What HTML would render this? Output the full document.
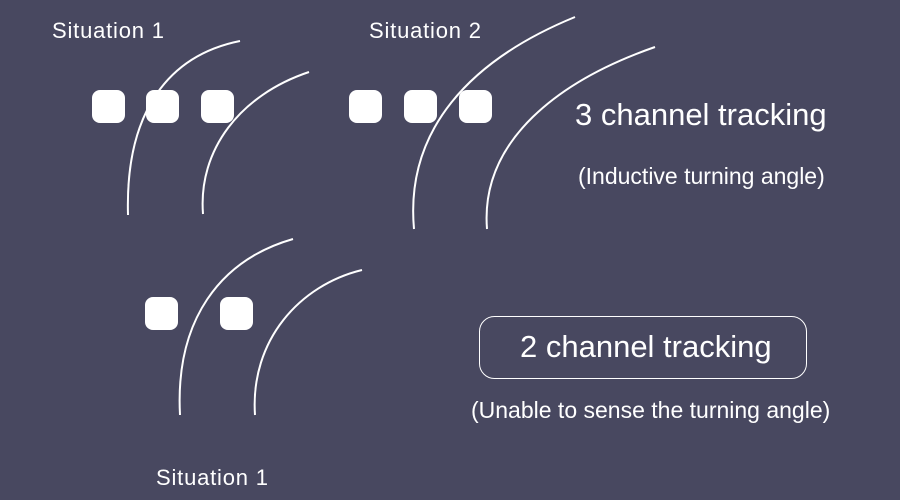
<!DOCTYPE html>
<html><head><style>
html,body{margin:0;padding:0;}
body{width:900px;height:500px;background:#484860;overflow:hidden;position:relative;font-family:"Liberation Sans",sans-serif;color:#fff;}
.t{position:absolute;white-space:nowrap;line-height:1.15;}
.s{font-size:22px;letter-spacing:0.8px;}
</style></head><body>
<svg width="900" height="500" style="position:absolute;left:0;top:0">
<g fill="#fff">
<rect x="92" y="90" width="33" height="33" rx="8"/>
<rect x="146" y="90" width="33" height="33" rx="8"/>
<rect x="201" y="90" width="33" height="33" rx="8"/>
<rect x="349" y="90" width="33" height="33" rx="8"/>
<rect x="404" y="90" width="33" height="33" rx="8"/>
<rect x="459" y="90" width="33" height="33" rx="8"/>
<rect x="145" y="297" width="33" height="33" rx="8"/>
<rect x="220" y="297" width="33" height="33" rx="8"/>
</g>
<g fill="none" stroke="#fff" stroke-width="2">
<path d="M240,41 C170,55 125,110 128,215"/>
<path d="M309,72 C240,95 198,150 203,214"/>
<path d="M575,17 C470,60 405,130 414,229"/>
<path d="M655,47 C560,80 480,140 487,229"/>
<path d="M293,239 C220,260 175,320 180,415"/>
<path d="M362,270 C300,285 250,340 255,415"/>
<rect x="479.5" y="316.5" width="327" height="62" rx="15" stroke-width="1"/>
</g>
</svg>
<div class="t s" style="left:52px;top:18px">Situation 1</div>
<div class="t s" style="left:369px;top:18px">Situation 2</div>
<div class="t s" style="left:156px;top:465px">Situation 1</div>
<div class="t" style="left:575px;top:97px;font-size:31px">3 channel tracking</div>
<div class="t" style="left:578px;top:163px;font-size:23px">(Inductive turning angle)</div>
<div class="t" style="left:520px;top:329px;font-size:31px">2 channel tracking</div>
<div class="t" style="left:471px;top:397px;font-size:23px">(Unable to sense the turning angle)</div>
</body></html>
